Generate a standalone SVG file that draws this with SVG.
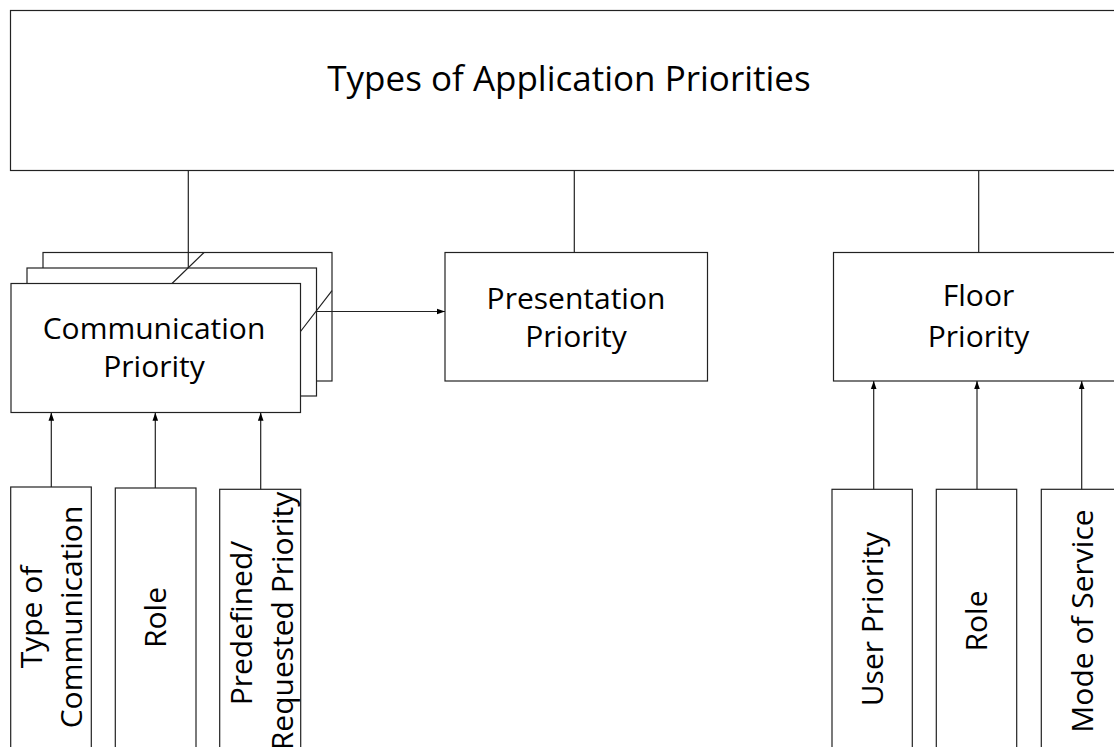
<svg xmlns="http://www.w3.org/2000/svg" width="1114" height="747" viewBox="0 0 1114 747">
<style>
.box{fill:#fff;stroke:#222;stroke-width:1.2}
.ln{fill:none;stroke:#222;stroke-width:1.2}
.t{font-family:"Open Sans","Noto Sans",sans-serif;font-size:30px;fill:#000;text-anchor:middle}
.title{font-size:35px}
</style>
<defs>
<marker id="ah" viewBox="0 0 10 10" refX="10" refY="5" markerWidth="8" markerHeight="8" markerUnits="userSpaceOnUse" orient="auto">
<path d="M0,1.5 L10,5 L0,8.5 Z" fill="#000"/>
</marker>
</defs>
<g id="title-node">
<rect class="box" x="10.5" y="10.5" width="1120" height="160"/>
<text class="t title" x="569" y="91">Types of Application Priorities</text>
</g>
<g id="communication-priority">
<rect class="box" x="43" y="252.5" width="289" height="128.5"/>
<rect class="box" x="27" y="268" width="289.5" height="128"/>
<rect class="box" x="11" y="283.5" width="289.5" height="129"/>
<path class="ln" d="M172,283.5 L204,252.5 M300.5,331.5 L332,290.7"/>
<text class="t" x="154" y="338.5">Communication</text>
<text class="t" x="154" y="377">Priority</text>
</g>
<g id="presentation-priority">
<rect class="box" x="445" y="252.5" width="262.5" height="128.5"/>
<text class="t" x="576" y="308.5">Presentation</text>
<text class="t" x="576" y="347">Priority</text>
</g>
<g id="floor-priority">
<rect class="box" x="833.5" y="252.5" width="290" height="128.5"/>
<text class="t" x="978.5" y="306">Floor</text>
<text class="t" x="978.5" y="346.5">Priority</text>
</g>
<g id="type-of-communication">
<rect class="box" x="10.7" y="487" width="80.6" height="280"/>
<text class="t" transform="translate(41.5,617) rotate(-90)">Type of</text>
<text class="t" transform="translate(81.5,617) rotate(-90)">Communication</text>
</g>
<g id="comm-role">
<rect class="box" x="115.3" y="488" width="80.7" height="280"/>
<text class="t" transform="translate(165.5,617.5) rotate(-90)">Role</text>
</g>
<g id="predefined-requested-priority">
<rect class="box" x="219.7" y="489.3" width="81" height="280"/>
<text class="t" transform="translate(252,623) rotate(-90)">Predefined/</text>
<text class="t" transform="translate(293,621) rotate(-90)">Requested Priority</text>
</g>
<g id="user-priority">
<rect class="box" x="832" y="489.3" width="80.3" height="280"/>
<text class="t" transform="translate(883,619) rotate(-90)">User Priority</text>
</g>
<g id="floor-role">
<rect class="box" x="936.3" y="489.3" width="80.4" height="280"/>
<text class="t" transform="translate(986.5,621) rotate(-90)">Role</text>
</g>
<g id="mode-of-service">
<rect class="box" x="1041.3" y="489.3" width="80.4" height="280"/>
<text class="t" transform="translate(1092.5,621) rotate(-90)">Mode of Service</text>
</g>
<g id="connectors">
<path class="ln" d="M188.3,170.5 L188.3,268"/>
<path class="ln" d="M574.3,170.5 L574.3,252.5"/>
<path class="ln" d="M978.7,170.5 L978.7,252.5"/>
<path class="ln" d="M316.5,311.5 L445,311.5" marker-end="url(#ah)"/>
<path class="ln" d="M51.3,487 L51.3,412.7" marker-end="url(#ah)"/>
<path class="ln" d="M155.3,488 L155.3,412.7" marker-end="url(#ah)"/>
<path class="ln" d="M260.7,489.3 L260.7,412.7" marker-end="url(#ah)"/>
<path class="ln" d="M873.7,489.3 L873.7,381" marker-end="url(#ah)"/>
<path class="ln" d="M977,489.3 L977,381" marker-end="url(#ah)"/>
<path class="ln" d="M1081.7,489.3 L1081.7,381" marker-end="url(#ah)"/>
</g>
</svg>
